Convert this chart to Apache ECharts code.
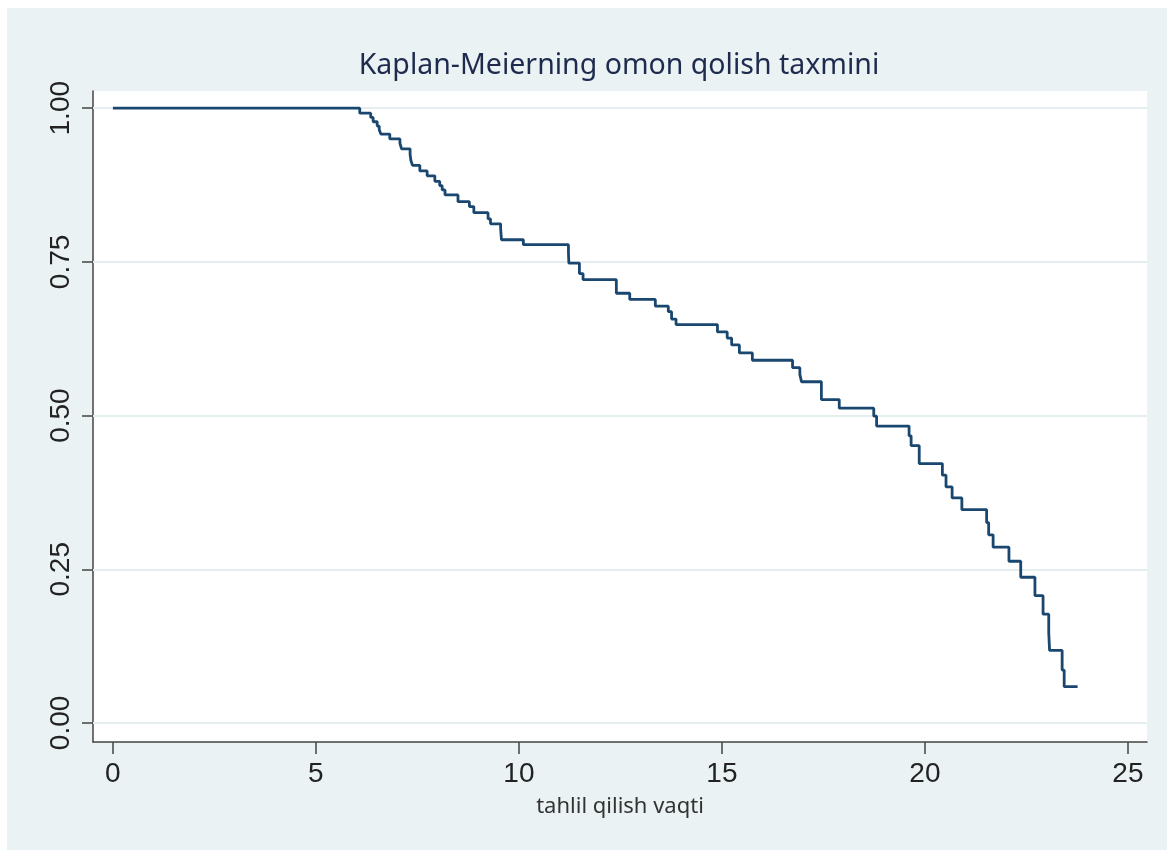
<!DOCTYPE html>
<html>
<head>
<meta charset="utf-8">
<script src="https://cdn.jsdelivr.net/npm/echarts@6/dist/echarts.min.js"></script>
<style>
html,body{margin:0;padding:0;background:#fff;}
#bg{position:absolute;left:7px;top:8px;width:1160px;height:842px;background:#eaf2f3;}
#chart{position:absolute;left:0;top:0;width:1167px;height:850px;}
</style>
</head>
<body>
<div id="bg"></div>
<div id="chart"></div>
<script>
// Kaplan-Meier step points: time at which survival drops, survival after drop
const times = [0, 6.08, 6.35, 6.41, 6.51, 6.56, 6.60, 6.82, 7.07, 7.11, 7.32, 7.34, 7.38, 7.56, 7.74, 7.93, 8.05, 8.11, 8.18, 8.50, 8.78, 8.89, 9.24, 9.30, 9.55, 9.57, 10.11, 11.22, 11.23, 11.49, 11.58, 12.40, 12.73, 13.36, 13.68, 13.76, 13.87, 14.89, 15.13, 15.24, 15.43, 15.75, 16.74, 16.92, 16.96, 17.45, 17.89, 18.74, 18.81, 19.61, 19.66, 19.86, 20.43, 20.52, 20.67, 20.91, 21.52, 21.57, 21.68, 22.07, 22.36, 22.71, 22.91, 23.05, 23.07, 23.38, 23.43, 23.76];
const survival = [1.000, 0.992, 0.985, 0.978, 0.971, 0.965, 0.958, 0.950, 0.943, 0.934, 0.925, 0.915, 0.907, 0.898, 0.890, 0.881, 0.874, 0.867, 0.859, 0.848, 0.840, 0.830, 0.820, 0.812, 0.804, 0.786, 0.778, 0.766, 0.748, 0.731, 0.721, 0.699, 0.689, 0.678, 0.669, 0.657, 0.648, 0.636, 0.626, 0.615, 0.602, 0.590, 0.578, 0.567, 0.555, 0.526, 0.512, 0.499, 0.483, 0.467, 0.451, 0.422, 0.403, 0.384, 0.366, 0.347, 0.326, 0.306, 0.286, 0.263, 0.237, 0.207, 0.177, 0.147, 0.118, 0.086, 0.059, 0.059];
const xTicks = [0, 5, 10, 15, 20, 25];
const yTicks = [0, 0.25, 0.5, 0.75, 1];
const titleText = 'Kaplan-Meierning omon qolish taxmini';
const xName = 'tahlil qilish vaqti';

const data = times.map((t, i) => [t, survival[i]]);

const chart = echarts.init(document.getElementById('chart'), null, {renderer: 'canvas'});
chart.setOption({
  backgroundColor: 'transparent',
  animation: false,
  title: {
    text: titleText,
    left: 619,
    top: 51,
    textAlign: 'center',
    padding: 0,
    textStyle: {fontFamily: 'Noto Sans', fontSize: 28.5, fontWeight: 'normal', color: '#1e2b4e'}
  },
  grid: {
    left: 93, right: 20, top: 91, bottom: 108,
    show: true, backgroundColor: '#ffffff', borderWidth: 0
  },
  xAxis: {
    type: 'value',
    min: -0.49, max: 25.47,
    name: xName,
    nameLocation: 'middle',
    nameGap: 54,
    nameTextStyle: {fontFamily: 'Noto Sans', fontSize: 22, color: '#333'},
    axisLine: {show: true, onZero: false, lineStyle: {color: '#444', width: 1.5}},
    axisTick: {show: true, length: 12, customValues: xTicks, lineStyle: {color: '#444', width: 1.5}},
    axisLabel: {customValues: xTicks, margin: 18, fontFamily: 'Liberation Sans', fontSize: 28, color: '#222'},
    splitLine: {show: false}
  },
  yAxis: {
    type: 'value',
    min: -0.031, max: 1.028,
    axisLine: {show: true, onZero: false, lineStyle: {color: '#444', width: 1.5}},
    axisTick: {show: true, length: 11, customValues: yTicks, lineStyle: {color: '#444', width: 1.5}},
    axisLabel: {customValues: yTicks, rotate: 90, margin: 18, fontFamily: 'Liberation Sans', fontSize: 28, color: '#222',
      formatter: v => v.toFixed(2)},
    splitLine: {show: false}
  },
  series: [{
    type: 'line',
    step: 'end',
    data: data,
    showSymbol: false,
    symbol: 'none',
    z: 3,
    lineStyle: {color: '#1a476f', width: 2.8},
    markLine: {
      silent: true,
      z: 1,
      symbol: 'none',
      label: {show: false},
      lineStyle: {color: '#e4eef0', width: 2, type: 'solid'},
      data: yTicks.map(v => ({yAxis: v}))
    }
  }]
});
</script>
</body>
</html>
